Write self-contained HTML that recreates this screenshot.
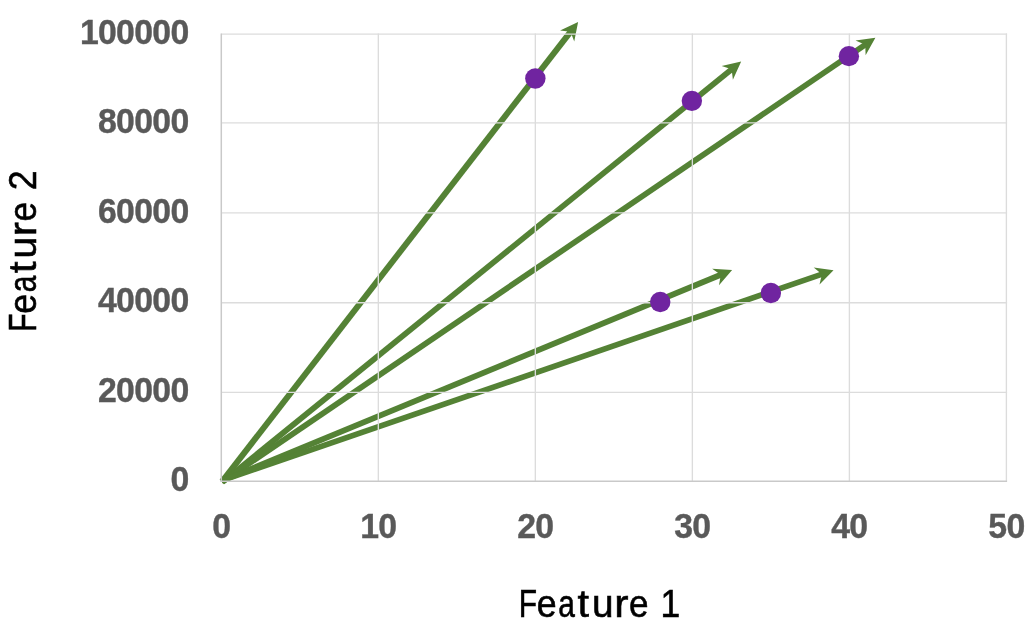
<!DOCTYPE html>
<html lang="en"><head><meta charset="utf-8"><title>Feature chart</title>
<style>html,body{margin:0;padding:0;background:#fff}body{width:1030px;height:633px;overflow:hidden}svg{display:block}text{font-family:"Liberation Sans",sans-serif}</style></head><body>
<svg width="1030" height="633" viewBox="0 0 1030 633">
<rect width="1030" height="633" fill="#fff"/>
<g fill="#548235" stroke="none">
<polygon points="224.39,483.45 574.97,30.88 570.23,27.20 219.64,479.77"/>
<polygon points="578.11,21.92 574.23,41.56 570.58,31.65 560.08,30.59"/>
<polygon points="224.22,484.34 735.98,69.46 732.39,65.03 220.63,479.91"/>
<polygon points="741.17,61.58 732.90,79.80 731.62,69.33 721.63,65.90"/>
<polygon points="223.77,484.21 869.55,45.22 866.34,40.51 220.57,479.50"/>
<polygon points="875.39,37.80 865.62,55.27 865.22,44.72 855.55,40.46"/>
<polygon points="222.81,483.56 724.89,276.14 722.72,270.87 220.63,478.29"/>
<polygon points="732.12,270.07 719.00,285.17 720.76,274.76 712.16,268.63"/>
<polygon points="222.59,483.33 825.95,275.81 824.09,270.42 220.74,477.94"/>
<polygon points="833.53,270.19 819.52,284.47 821.90,274.19 813.69,267.54"/>
</g>
<g stroke="#dcdcdc" stroke-width="1.35" fill="none">
<line x1="378.32" y1="33.50" x2="378.32" y2="481.20"/>
<line x1="535.34" y1="33.50" x2="535.34" y2="481.20"/>
<line x1="692.36" y1="33.50" x2="692.36" y2="481.20"/>
<line x1="849.38" y1="33.50" x2="849.38" y2="481.20"/>
<line x1="1006.40" y1="33.50" x2="1006.40" y2="481.20"/>
<line x1="221.30" y1="392.40" x2="1007.10" y2="392.40"/>
<line x1="221.30" y1="302.70" x2="1007.10" y2="302.70"/>
<line x1="221.30" y1="212.80" x2="1007.10" y2="212.80"/>
<line x1="221.30" y1="122.90" x2="1007.10" y2="122.90"/>
<line x1="221.30" y1="34.10" x2="1007.10" y2="34.10"/>
</g>
<g stroke="#c9c9c9" stroke-width="1.5" fill="none">
<line x1="221.30" y1="33.50" x2="221.30" y2="481.95"/>
<line x1="220.55" y1="481.20" x2="1007.10" y2="481.20"/>
</g>
<g fill="#7024a0">
<circle cx="535.34" cy="78.50" r="10.2"/>
<circle cx="691.86" cy="100.85" r="10.2"/>
<circle cx="848.88" cy="56.15" r="10.2"/>
<circle cx="660.26" cy="302.00" r="10.2"/>
<circle cx="770.87" cy="293.06" r="10.2"/>
</g>
<g fill="#595959" stroke="#595959" stroke-width="0.4" font-weight="bold" font-size="35.0" letter-spacing="-0.7">
<text transform="translate(188.5,491.40) scale(0.965,1)" text-anchor="end">0</text>
<text transform="translate(188.5,401.86) scale(0.965,1)" text-anchor="end">20000</text>
<text transform="translate(188.5,312.32) scale(0.965,1)" text-anchor="end">40000</text>
<text transform="translate(188.5,222.78) scale(0.965,1)" text-anchor="end">60000</text>
<text transform="translate(188.5,133.24) scale(0.965,1)" text-anchor="end">80000</text>
<text transform="translate(188.5,43.70) scale(0.965,1)" text-anchor="end">100000</text>
<text transform="translate(221.30,538.3) scale(0.965,1)" text-anchor="middle">0</text>
<text transform="translate(378.32,538.3) scale(0.965,1)" text-anchor="middle">10</text>
<text transform="translate(535.34,538.3) scale(0.965,1)" text-anchor="middle">20</text>
<text transform="translate(692.36,538.3) scale(0.965,1)" text-anchor="middle">30</text>
<text transform="translate(849.38,538.3) scale(0.965,1)" text-anchor="middle">40</text>
<text transform="translate(1006.40,538.3) scale(0.965,1)" text-anchor="middle">50</text>
</g>
<g fill="#000" stroke="#000" stroke-width="0.6" font-size="39.4">
<text transform="translate(520.8,617.2)"><tspan x="-2.03" textLength="18.29" lengthAdjust="spacingAndGlyphs">F</tspan><tspan x="15.90" textLength="19.88" lengthAdjust="spacingAndGlyphs">e</tspan><tspan x="37.55" textLength="16.65" lengthAdjust="spacingAndGlyphs">a</tspan><tspan x="56.68" textLength="11.50" lengthAdjust="spacingAndGlyphs">t</tspan><tspan x="71.08" textLength="21.59" lengthAdjust="spacingAndGlyphs">u</tspan><tspan x="93.48" textLength="14.25" lengthAdjust="spacingAndGlyphs">r</tspan><tspan x="108.23" textLength="19.53" lengthAdjust="spacingAndGlyphs">e</tspan><tspan x="128.50"> </tspan><tspan x="139.60" textLength="19.74" lengthAdjust="spacingAndGlyphs">1</tspan></text>
<text transform="translate(36.2,329.7) rotate(-90)"><tspan x="-2.03" textLength="18.29" lengthAdjust="spacingAndGlyphs">F</tspan><tspan x="15.90" textLength="19.88" lengthAdjust="spacingAndGlyphs">e</tspan><tspan x="37.55" textLength="16.65" lengthAdjust="spacingAndGlyphs">a</tspan><tspan x="56.68" textLength="11.50" lengthAdjust="spacingAndGlyphs">t</tspan><tspan x="71.08" textLength="21.59" lengthAdjust="spacingAndGlyphs">u</tspan><tspan x="93.48" textLength="14.25" lengthAdjust="spacingAndGlyphs">r</tspan><tspan x="108.23" textLength="19.53" lengthAdjust="spacingAndGlyphs">e</tspan><tspan x="128.50"> </tspan><tspan x="139.41" textLength="19.88" lengthAdjust="spacingAndGlyphs">2</tspan></text>
</g>
</svg></body></html>
